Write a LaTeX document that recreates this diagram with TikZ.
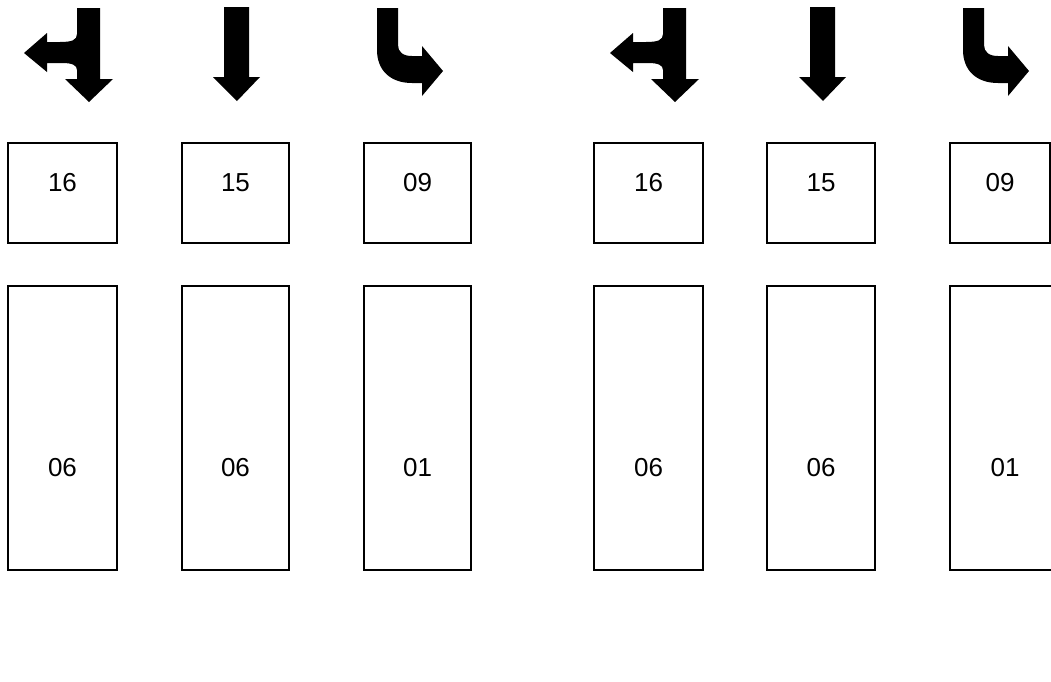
\documentclass[tikz,border=0pt]{standalone}
\usepackage{fontspec}
\setmainfont{Liberation Sans}
\begin{document}
\begin{tikzpicture}[x=1pt,y=-1pt,
  lanebox/.style={draw=black,line width=2pt,fill=white},
  lanelbl/.style={font=\fontsize{26}{30}\selectfont,inner sep=0pt},
  arrowfill/.style={fill=black,draw=none}]
\useasboundingbox (0,0) rectangle (1051,681);
\begin{scope}
\clip (0,0) rectangle (1051,681);
\foreach \g/\dx in {a/0,b/586}{
  \begin{scope}[xshift=\dx]
  \fill[arrowfill] (77,8) -- (100,8) -- (100,79) -- (113,79) -- (89,102) -- (65,79) -- (77,79) -- (77,70)
     .. controls (77,65) and (72,63) .. (62,63) -- (47,63) -- (47,72) -- (24,53) -- (47,33) -- (47,42) -- (60,42)
     .. controls (72,42) and (77,40) .. (77,34) -- cycle;
  \fill[arrowfill] (224,7) -- (249,7) -- (249,77) -- (260,77) -- (237,101) -- (213,77) -- (224,77) -- cycle;
  \fill[arrowfill] (377,8) -- (398,8) -- (398,45) .. controls (398,52) and (403,56) .. (412,56) -- (422,56) -- (422,46)
     -- (443,71) -- (422,96) -- (422,83) -- (412,83) .. controls (390,83) and (377,70) .. (377,50) -- cycle;
  \end{scope}
}
\draw[lanebox] (8,143) rectangle (117,243);
\draw[lanebox] (182,143) rectangle (289,243);
\draw[lanebox] (364,143) rectangle (471,243);
\draw[lanebox] (594,143) rectangle (703,243);
\draw[lanebox] (767,143) rectangle (875,243);
\draw[lanebox] (950,143) rectangle (1050,243);
\node[lanelbl] (t1) at (62.5,183) {16};
\node[lanelbl] (t2) at (235.5,183) {15};
\node[lanelbl] (t3) at (417.5,183) {09};
\node[lanelbl] (t4) at (648.5,183) {16};
\node[lanelbl] (t5) at (821,183) {15};
\node[lanelbl] (t6) at (1000,183) {09};
\draw[lanebox] (8,286) rectangle (117,570);
\draw[lanebox] (182,286) rectangle (289,570);
\draw[lanebox] (364,286) rectangle (471,570);
\draw[lanebox] (594,286) rectangle (703,570);
\draw[lanebox] (767,286) rectangle (875,570);
\draw[lanebox] (950,286) rectangle (1060,570);
\node[lanelbl] (b1) at (62.5,468) {06};
\node[lanelbl] (b2) at (235.5,468) {06};
\node[lanelbl] (b3) at (417.5,468) {01};
\node[lanelbl] (b4) at (648.5,468) {06};
\node[lanelbl] (b5) at (821,468) {06};
\node[lanelbl] (b6) at (1005,468) {01};
\end{scope}
\end{tikzpicture}
\end{document}
